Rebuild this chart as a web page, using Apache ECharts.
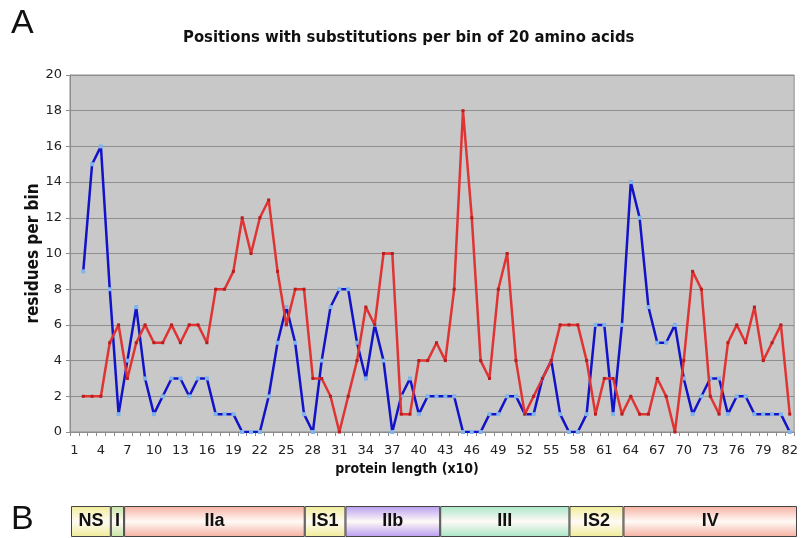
<!DOCTYPE html>
<html>
<head>
<meta charset="utf-8">
<script src="https://cdn.jsdelivr.net/npm/echarts@6/dist/echarts.min.js"></script>
<style>
  html, body { margin: 0; padding: 0; background: #fff; }
  #chart { width: 801px; height: 538px; }
</style>
</head>
<body>
<div id="chart"></div>
<script>
// bins of 20 residues, labelled 1..82 (x10)
const bins = Array.from({ length: 82 }, (_, i) => String(i + 1));

// blue series, bins 1..82 (bin 1 has no value)
const blueVals = [null,
  9, 15, 16, 8, 1, 4, 7, 3, 1, 2, 3, 3, 2, 3, 3, 1, 1, 1, 0, 0,
  0, 2, 5, 7, 5, 1, 0, 4, 7, 8, 8, 5, 3, 6, 4, 0, 2, 3, 1, 2,
  2, 2, 2, 0, 0, 0, 1, 1, 2, 2, 1, 1, 3, 4, 1, 0, 0, 1, 6, 6,
  1, 6, 14, 12, 7, 5, 5, 6, 3, 1, 2, 3, 3, 1, 2, 2, 1, 1, 1, 1, 0];

// red series
const redVals = [null,
  2, 2, 2, 5, 6, 3, 5, 6, 5, 5, 6, 5, 6, 6, 5, 8, 8, 9, 12, 10,
  12, 13, 9, 6, 8, 8, 3, 3, 2, 0, 2, 4, 7, 6, 10, 10, 1, 1, 4, 4,
  5, 4, 8, 18, 12, 4, 3, 8, 10, 4, 1, 2, 3, 4, 6, 6, 6, 4, 1, 3,
  3, 1, 2, 1, 1, 3, 2, 0, 4, 9, 8, 2, 1, 5, 6, 5, 7, 4, 5, 6, 1];

const yTicks = [0, 2, 4, 6, 8, 10, 12, 14, 16, 18, 20];

// panel B: domains along the protein (residues)
const domainNames = ['NS', 'I', 'IIa', 'IS1', 'IIb', 'III', 'IS2', 'IV'];
const domainLens = [45, 15, 204, 46, 107, 146, 61, 196];
const domainColors = ['#f0ec96', '#c6e4a4', '#f5b0a0', '#f0ec96', '#b89cf0', '#a9e6c6', '#f0ec96', '#f5b0a0'];

const chart = echarts.init(document.getElementById('chart'));

const boldFont = "'DejaVu Sans Condensed', 'DejaVu Sans', sans-serif";
const tickFont = "'DejaVu Sans', sans-serif";
const protLen = domainLens.reduce((a, b) => a + b, 0);

const domainSeries = domainNames.map((name, i) => ({
  name: name,
  type: 'bar',
  stack: 'dom',
  xAxisIndex: 1,
  yAxisIndex: 1,
  barWidth: '100%',
  data: [domainLens[i]],
  itemStyle: {
    color: new echarts.graphic.LinearGradient(0, 0, 0, 1, [
      { offset: 0, color: domainColors[i] },
      { offset: 0.5, color: '#fffaf6' },
      { offset: 1, color: domainColors[i] },
    ]),
    borderColor: '#444',
    borderWidth: 1,
  },
  label: {
    show: true,
    position: 'inside',
    formatter: name,
    color: '#111',
    fontFamily: "'Liberation Sans Narrow', 'Liberation Sans', sans-serif",
    fontWeight: 'bold',
    fontSize: 18,
  },
  silent: true,
}));

const option = {
  animation: false,
  backgroundColor: '#fff',
  title: {
    text: 'Positions with substitutions per bin of 20 amino acids',
    left: 178,
    top: 24,
    textStyle: { fontFamily: boldFont, fontWeight: 'bold', fontSize: 16.5, color: '#111' },
  },
  graphic: [
    { type: 'text', left: 11, top: 7, style: { text: 'A', font: "34px 'Liberation Sans', sans-serif", fill: '#111' } },
    { type: 'text', left: 11, top: 503, style: { text: 'B', font: "34px 'Liberation Sans', sans-serif", fill: '#111' } },
  ],
  grid: [
    {
      left: 70, right: 5, top: 75, bottom: 106,
      show: true, backgroundColor: '#c8c8c8', borderColor: '#8c8c8c', borderWidth: 1,
    },
    { left: 71, width: 726, top: 506, height: 31 },
  ],
  xAxis: [
    {
      type: 'category',
      data: bins,
      boundaryGap: true,
      name: 'protein length (x10)',
      nameLocation: 'middle',
      nameGap: 27,
      nameTextStyle: {
        fontFamily: boldFont, fontWeight: 'bold', fontSize: 14, color: '#111',
        padding: [0, 50, 0, 0],
      },
      axisLine: { lineStyle: { color: '#8c8c8c' } },
      axisTick: { show: true, interval: 0, length: 4, lineStyle: { color: '#8c8c8c' } },
      axisLabel: { interval: 2, margin: 12, fontFamily: tickFont, fontSize: 13, color: '#222' },
      splitLine: { show: false },
    },
    { gridIndex: 1, type: 'value', min: 0, max: protLen, show: false },
  ],
  yAxis: [
    {
      type: 'value',
      min: 0, max: 20, interval: 2,
      name: 'residues per bin',
      nameLocation: 'middle',
      nameGap: 28,
      nameMoveOverlap: false,
      nameTextStyle: { fontFamily: boldFont, fontWeight: 'bold', fontSize: 17, color: '#111' },
      axisLine: { show: true, lineStyle: { color: '#8c8c8c' } },
      axisTick: { show: true, length: 4, lineStyle: { color: '#8c8c8c' } },
      axisLabel: {
        margin: 8, fontFamily: tickFont, fontSize: 13, color: '#222',
        formatter: (v) => (yTicks.includes(v) ? String(v) : ''),
      },
      splitLine: { lineStyle: { color: '#8e8e8e', width: 1 } },
    },
    { gridIndex: 1, type: 'category', data: ['domains'], show: false },
  ],
  series: [
    {
      name: 'blue',
      type: 'line',
      data: blueVals,
      symbol: 'rect',
      symbolSize: 4,
      itemStyle: { color: '#7fb4ec' },
      lineStyle: { color: '#1212c8', width: 2.5 },
      z: 3,
    },
    {
      name: 'red',
      type: 'line',
      data: redVals,
      symbol: 'rect',
      symbolSize: 3,
      itemStyle: { color: '#b81c1c' },
      lineStyle: { color: '#e03434', width: 2.5 },
      z: 4,
    },
    ...domainSeries,
  ],
};

chart.setOption(option);
</script>
</body>
</html>
